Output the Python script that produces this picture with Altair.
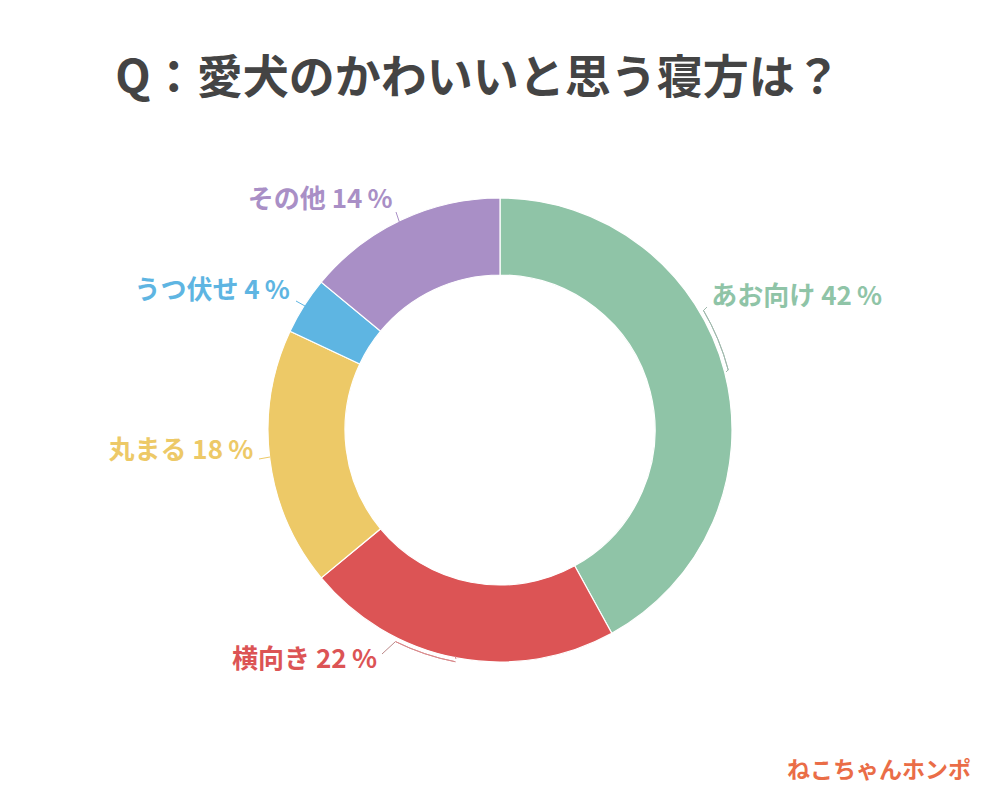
import altair as alt
import pandas as pd

labels = ["あお向け", "横向き", "丸まる", "うつ伏せ", "その他"]
values = [42, 22, 18, 4, 14]
colors = ["#8FC4A7", "#DC5455", "#EDC967", "#5EB5E2", "#A98FC6"]
title_text = "Q：愛犬のかわいいと思う寝方は？"
logo_text = "ねこちゃんホンポ"

df = pd.DataFrame({
    "label": labels,
    "value": values,
    "order": list(range(len(labels))),
    "text": [f"{l} {v}\u2009%" for l, v in zip(labels, values)],
})

CX, CY = 500, 430
color_scale = alt.Scale(domain=labels, range=colors)

base = alt.Chart(df).encode(
    theta=alt.Theta("value:Q", stack=True),
    order=alt.Order("order:Q"),
    x=alt.value(CX),
    y=alt.value(CY),
)

donut = base.mark_arc(
    outerRadius=232, innerRadius=155, stroke="white", strokeWidth=1.2
).encode(color=alt.Color("label:N", scale=color_scale, legend=None))

offsets = {
    "あお向け": (72, -75),
    "横向き": (-152, 2),
    "丸まる": (-89, -8),
    "うつ伏せ": (-92, -15),
    "その他": (-81, -20),
}

label_layers = []
for i, (lab, (dx, dy)) in enumerate(offsets.items()):
    label_layers.append(
        base.mark_text(
            radius=232, dx=dx, dy=dy, fontSize=26, fontWeight="bold",
            font="Noto Sans CJK JP", align="center", baseline="middle",
        ).encode(
            text=alt.Text(f"t{i}:N"),
            color=alt.Color("label:N", scale=color_scale, legend=None),
        ).transform_calculate(
            **{f"t{i}": f"datum.label == '{lab}' ? datum.text : ''"}
        )
    )

# leader lines (annotation styling)
dummy = pd.DataFrame({"a": [0]})
brackets = [
    (1.0385, 1.3142, "#9fb8ac"),
    (3.3318, 3.6006, "#d98a8c"),
]
bracket_layers = [
    alt.Chart(dummy).mark_arc(
        theta=t1, theta2=t2, outerRadius=236, innerRadius=236,
        filled=False, stroke=c, strokeWidth=1, fill=None,
    ).encode(x=alt.value(CX), y=alt.value(CY))
    for t1, t2, c in brackets
]
leaders = [
    (704, 310, 707, 307, "#9fb8ac"),
    (728, 370, 726, 372, "#9fb8ac"),
    (382, 654, 395, 642, "#b88"),
    (456, 659, 455, 656, "#d98a8c"),
    (259, 459, 270, 457, "#EDC967"),
    (296, 301, 305, 306, "#5EB5E2"),
    (396, 212, 400, 224, "#A98FC6"),
]
leader_layers = [
    alt.Chart(dummy).mark_rule(color=c, strokeWidth=1).encode(
        x=alt.value(x1), y=alt.value(y1), x2=alt.value(x2), y2=alt.value(y2)
    )
    for x1, y1, x2, y2, c in leaders
]

title = alt.Chart(pd.DataFrame({"t": [title_text]})).mark_text(
    fontSize=46, fontWeight="bold", font="Noto Sans CJK JP", color="#444444",
    align="center", baseline="middle",
).encode(text="t:N", x=alt.value(478), y=alt.value(79))

logo = alt.Chart(pd.DataFrame({"t": [logo_text]})).mark_text(
    fontSize=23, fontWeight="bold", font="Noto Sans CJK JP", color="#EA6D47",
    align="center", baseline="middle",
).encode(text="t:N", x=alt.value(879), y=alt.value(771))

chart = alt.layer(
    donut, *bracket_layers, *leader_layers, *label_layers, title, logo
).properties(
    width=1000, height=800,
    autosize=alt.AutoSizeParams(type="none"),
    padding=0,
    background="white",
).configure_view(stroke=None)

chart.save("out.html", embed_options={"renderer": "svg", "actions": False})
